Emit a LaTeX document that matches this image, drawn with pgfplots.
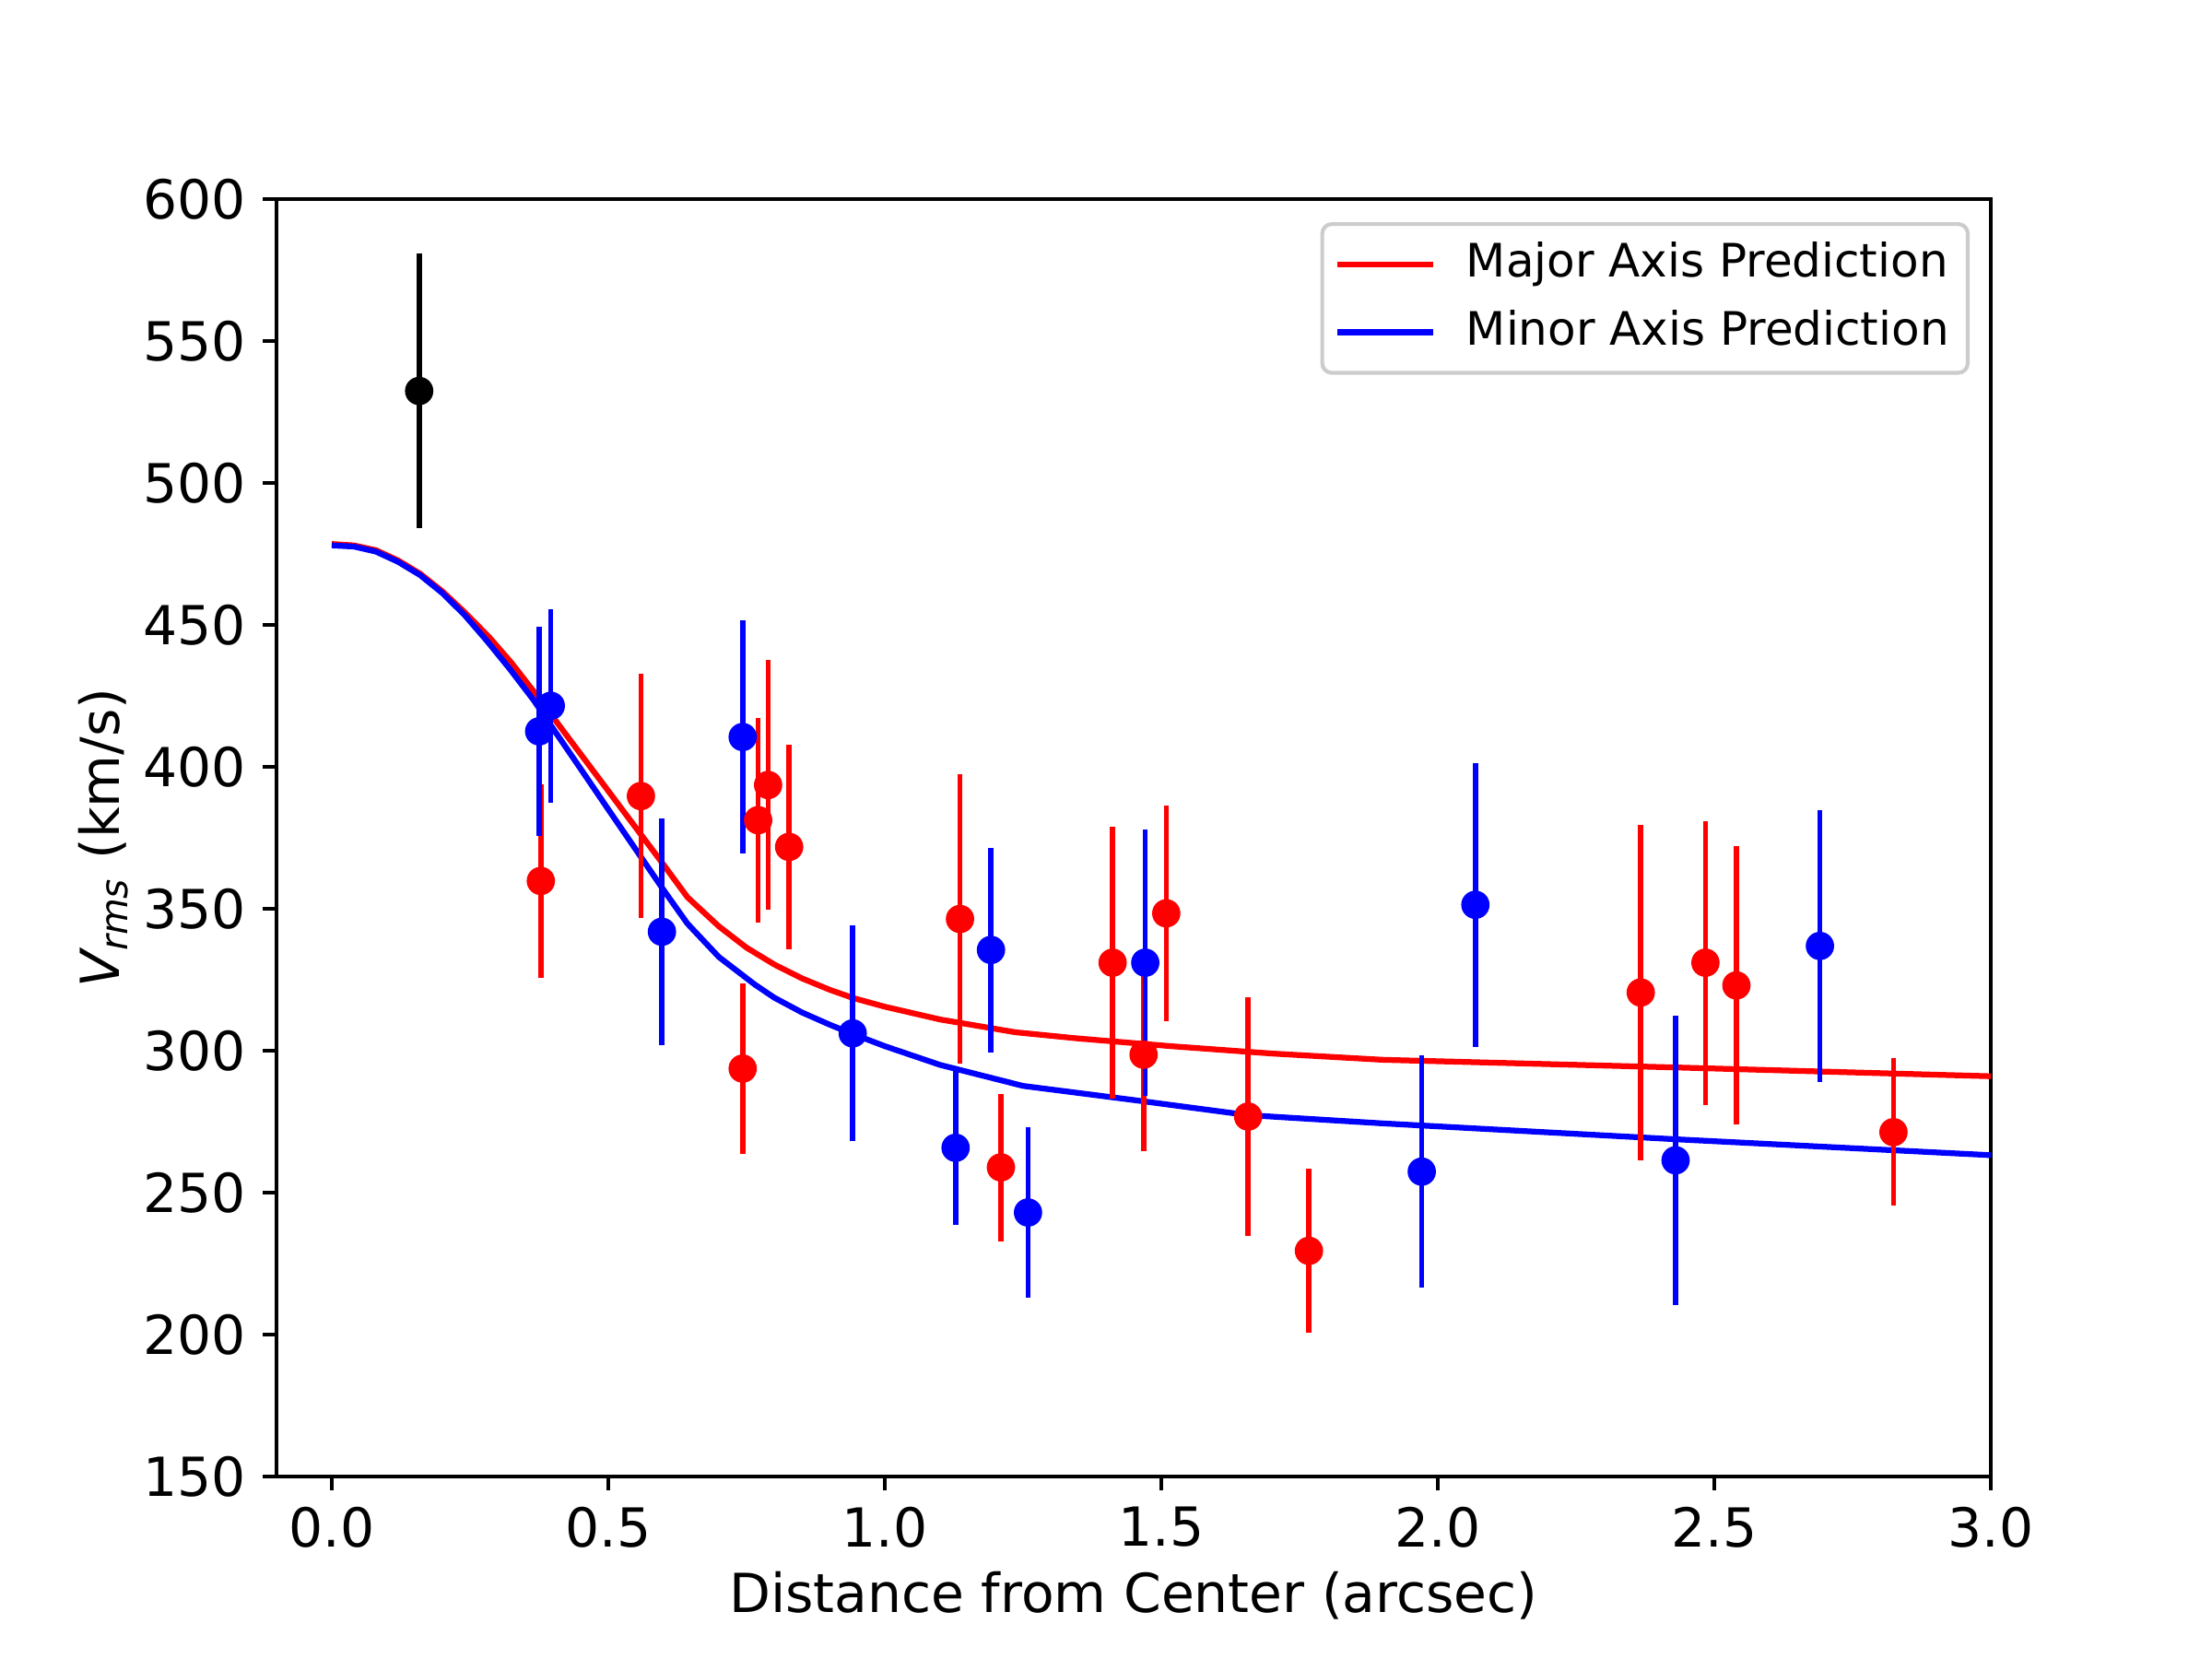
\documentclass[border=0pt]{standalone}
\usepackage{fontspec}
\setmainfont{DejaVu Sans}
\usepackage{pgfplots}
\pgfplotsset{compat=1.18}
\usepackage{pgfplotstable}

\pgfplotstableread{
x y e
0.378 359.8 34
0.559 389.7 43
0.743 293.7 30
0.771 381.2 36
0.789 393.6 44
0.827 371.8 36
1.136 346.4 51
1.210 258.9 26
1.412 331.0 48
1.468 298.6 34
1.509 348.4 38
1.657 276.8 42
1.767 229.5 29
2.367 320.5 59
2.484 331.0 50
2.540 323.0 49
2.824 271.3 26
}\majordata

\pgfplotstableread{
x y e
0.375 412.5 37
0.396 421.5 34
0.597 341.9 40
0.743 410.5 41
0.942 306.1 38
1.128 265.8 27
1.192 335.5 36
1.259 243.0 30
1.471 331.0 47
1.971 257.4 41
2.068 351.4 50
2.430 261.4 51
2.691 336.9 48
}\minordata

\pgfplotstableread{
x y e
0.158 532.4 48.3
}\centerdata

\pgfplotstableread{
x y
0.000 478.5
0.040 478.0
0.080 476.3
0.120 472.7
0.160 468.0
0.200 461.8
0.240 454.5
0.285 445.6
0.325 436.6
0.365 426.6
0.400 417.5
0.450 404.5
0.500 391.5
0.550 378.5
0.600 365.5
0.643 354.1
0.700 343.8
0.750 336.3
0.800 330.4
0.850 325.5
0.900 321.5
0.942 318.6
1.000 315.5
1.100 311.0
1.236 306.5
1.350 304.3
1.517 301.6
1.700 299.0
1.900 296.8
2.430 294.1
3.000 291.0
}\majorcurve

\pgfplotstableread{
x y
0.000 478.0
0.040 477.6
0.080 475.8
0.120 472.2
0.160 467.5
0.200 461.2
0.240 453.5
0.280 444.5
0.321 434.7
0.365 423.5
0.400 413.5
0.450 399.3
0.500 385.0
0.550 370.8
0.600 356.6
0.643 344.8
0.700 333.0
0.765 323.3
0.800 318.7
0.850 313.5
0.900 309.2
0.942 305.9
1.000 301.6
1.100 295.0
1.250 287.6
1.447 282.7
1.657 277.3
1.900 274.4
2.430 268.8
3.000 263.2
}\minorcurve

\begin{document}
\begin{tikzpicture}
\useasboundingbox (-57.6pt,-38.016pt) rectangle (403.2pt,307.584pt);
\begin{axis}[
  at={(0pt,0pt)}, anchor=south west,
  scale only axis,
  width=357.12pt, height=266.11pt,
  xmin=-0.1, xmax=3.0,
  ymin=150, ymax=600,
  xtick={0,0.5,1,1.5,2,2.5,3},
  ytick={150,200,250,300,350,400,450,500,550,600},
  xticklabel style={/pgf/number format/.cd, fixed, fixed zerofill, precision=1},
  yticklabel style={/pgf/number format/.cd, fixed, precision=0},
  /pgf/number format/assume math mode=true,
  tick label style={font=\fontsize{11.2}{13}\selectfont},
  tick align=outside,
  xtick pos=bottom, ytick pos=left,
  major tick length=2.8pt,
  every tick/.style={black, line width=0.64pt},
  axis line style={line width=0.64pt},
  xlabel={Distance from Center (arcsec)},
  ylabel={{\itshape V}\textsubscript{\itshape rms} (km/s)},
  every axis x label/.style={at={(axis description cs:0.5,-0.093)}, anchor=center, font=\fontsize{11.2}{13}\selectfont},
  every axis y label/.style={at={(axis description cs:-0.101,0.5)}, rotate=90, anchor=center, font=\fontsize{11.2}{13}\selectfont},
  legend style={
    at={(rel axis cs:1,1)}, anchor=north east, xshift=-4.4pt, yshift=-4.8pt,
    draw=black!20, line width=0.8pt, rounded corners=2pt,
    fill=white, fill opacity=0.8, text opacity=1,
    font=\fontsize{9.6}{11}\selectfont,
    inner xsep=2.6pt, inner ysep=1.4pt,
    nodes={inner xsep=0pt, inner ysep=2.2pt, text height=7.5pt, text depth=2.2pt},
    /tikz/every odd column/.append style={column sep=6.2pt},
  },
  legend cell align=left,
  legend image code/.code={\draw[#1, line width=1.2pt] (0pt,0pt) -- (20pt,0pt);},
]
\addplot[red, line width=1.2pt] table[x=x, y=y] {\majorcurve};
\addlegendentry{Major Axis Prediction\hspace*{1.3pt}}
\addplot[blue, line width=1.2pt] table[x=x, y=y] {\minorcurve};
\addlegendentry{Minor Axis Prediction\hspace*{1.3pt}}

% error bars
\addplot[forget plot, black, only marks, mark=none,
  error bars/.cd, y dir=both, y explicit, error mark=none,
  error bar style={line width=1.1pt, black}]
  table[x=x, y=y, y error=e] {\centerdata};
\addplot[forget plot, red, only marks, mark=none,
  error bars/.cd, y dir=both, y explicit, error mark=none,
  error bar style={line width=1.1pt, red}]
  table[x=x, y=y, y error=e] {\majordata};
\addplot[forget plot, blue, only marks, mark=none,
  error bars/.cd, y dir=both, y explicit, error mark=none,
  error bar style={line width=1.1pt, blue}]
  table[x=x, y=y, y error=e] {\minordata};

% markers
\addplot[forget plot, only marks, mark=*, mark size=2.75pt, black, mark options={fill=black, draw=black}]
  table[x=x, y=y] {\centerdata};
\addplot[forget plot, only marks, mark=*, mark size=2.75pt, red, mark options={fill=red, draw=red}]
  table[x=x, y=y] {\majordata};
\addplot[forget plot, only marks, mark=*, mark size=2.75pt, blue, mark options={fill=blue, draw=blue}]
  table[x=x, y=y] {\minordata};
\end{axis}
\end{tikzpicture}
\end{document}
